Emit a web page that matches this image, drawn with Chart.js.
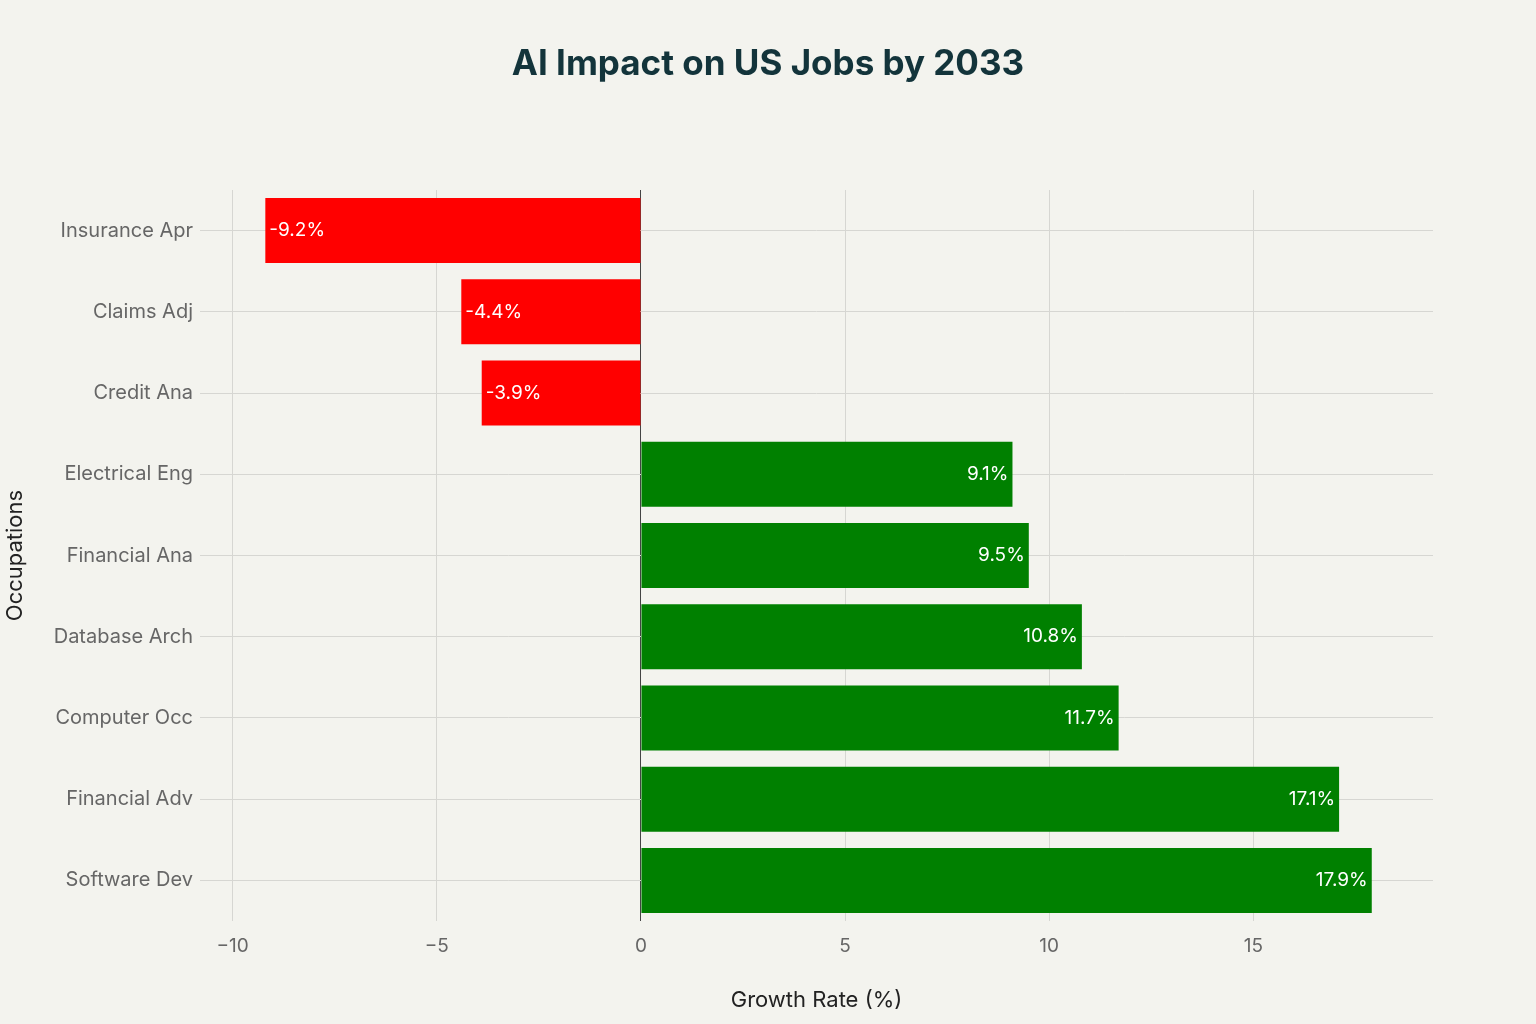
<!DOCTYPE html>
<html>
<head>
<meta charset="utf-8">
<script src="https://cdn.jsdelivr.net/npm/chart.js@4.4.1/dist/chart.umd.min.js"></script>
<style>
  html, body { margin: 0; padding: 0; background: #f3f3ee; }
  #wrap { width: 1536px; height: 1024px; }
</style>
</head>
<body>
<div id="wrap"><canvas id="myChart" width="1536" height="1024"></canvas></div>
<script>
// chart data
const occupations = ['Insurance Apr', 'Claims Adj', 'Credit Ana', 'Electrical Eng', 'Financial Ana',
    'Database Arch', 'Computer Occ', 'Financial Adv', 'Software Dev'];
const growthRates = [-9.2, -4.4, -3.9, 9.1, 9.5, 10.8, 11.7, 17.1, 17.9];
const xTicks = [-10, -5, 0, 5, 10, 15];

const titleText = 'AI Impact on US Jobs by 2033';
const fontMain = 'Inter, "Liberation Sans", sans-serif';

// background + title
const paperPlugin = {
    id: 'paper',
    beforeDraw(chart) {
        const ctx = chart.ctx;
        ctx.save();
        ctx.fillStyle = '#f3f3ee';
        ctx.fillRect(0, 0, chart.width, chart.height);
        ctx.fillStyle = '#13343b';
        ctx.font = 'bold 35px ' + fontMain;
        ctx.textAlign = 'center';
        ctx.textBaseline = 'middle';
        ctx.fillText(titleText, 768, 64);
        ctx.restore();
    }
};

// value labels inside the bar ends
const barLabels = {
    id: 'barLabels',
    afterDatasetsDraw(chart) {
        const ctx = chart.ctx;
        const meta = chart.getDatasetMeta(0);
        ctx.save();
        ctx.font = '19px ' + fontMain;
        ctx.fillStyle = '#ffffff';
        ctx.textBaseline = 'middle';
        meta.data.forEach((bar, i) => {
            let v = growthRates[i];
            let txt = v.toFixed(1) + '%';
            if (v < 0) {
                ctx.textAlign = 'left';
                ctx.fillText(txt, bar.x + 4, bar.y);
            } else {
                ctx.textAlign = 'right';
                ctx.fillText(txt, bar.x - 4, bar.y);
            }
        });
        ctx.restore();
    }
};

let canvas = document.getElementById('myChart');
let ctx = canvas.getContext('2d');

let chart = new Chart(ctx, {
    type: 'bar',
    data: {
        labels: occupations,
        datasets: [{
            data: growthRates,
            backgroundColor: growthRates.map(v => v < 0 ? '#ff0000' : '#008000'),
            borderWidth: 0,
            barPercentage: 0.8,
            categoryPercentage: 1.0
        }]
    },
    options: {
        indexAxis: 'y',
        responsive: false,
        animation: false,
        devicePixelRatio: 1,
        layout: { padding: { top: 190, right: 103, left: 0, bottom: 10 } },
        plugins: {
            legend: { display: false },
            title: { display: false },
            tooltip: { enabled: false }
        },
        scales: {
            x: {
                type: 'linear',
                min: -10.8,
                max: 19.4,
                afterBuildTicks(scale) {
                    scale.ticks = xTicks.map(v => ({ value: v }));
                },
                afterFit(scale) { scale.height = 93; },
                border: { display: false },
                grid: {
                    drawTicks: false,
                    color: c => c.tick && c.tick.value === 0 ? '#444444' : '#d6d6d2',
                    lineWidth: 1
                },
                ticks: {
                    padding: 14,
                    color: '#666666',
                    font: { family: fontMain, size: 19 },
                    callback: v => String(v).replace('-', '\u2212')
                },
                title: {
                    display: true,
                    text: 'Growth Rate (%)',
                    color: '#222222',
                    font: { family: fontMain, size: 22 },
                    padding: { top: 0, bottom: 0 }
                }
            },
            y: {
                afterFit(scale) { scale.width = 200; },
                border: { display: false },
                grid: {
                    offset: false,
                    drawTicks: false,
                    color: '#d6d6d2',
                    lineWidth: 1
                },
                ticks: {
                    padding: 7,
                    color: '#666666',
                    font: { family: fontMain, size: 20 }
                },
                title: {
                    display: true,
                    text: 'Occupations',
                    color: '#222222',
                    font: { family: fontMain, size: 22 },
                    padding: { top: 2, bottom: 0 }
                }
            }
        }
    },
    plugins: [paperPlugin, barLabels]
});
</script>
</body>
</html>
